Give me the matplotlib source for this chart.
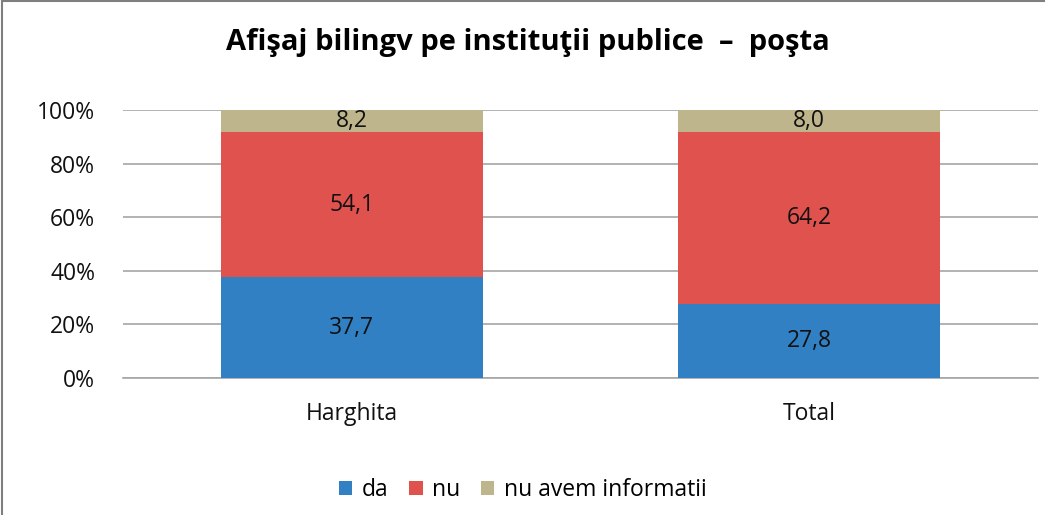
import matplotlib
matplotlib.use("Agg")
import matplotlib.pyplot as plt
from matplotlib.patches import Rectangle
import numpy as np

categories = ["Harghita", "Total"]
series_names = ["da", "nu", "nu avem informatii"]
da = [37.7, 27.8]
nu = [54.1, 64.2]
nu_info = [8.2, 8.0]
yticks = [0, 20, 40, 60, 80, 100]
ytick_labels = ["0%", "20%", "40%", "60%", "80%", "100%"]
title = "Afişaj bilingv pe instituţii publice  –  poşta"

colors = ["#3180C4", "#E0524E", "#BEB58C"]
plt.rcParams['font.family'] = ['Open Sans', 'DejaVu Sans']

fig = plt.figure(figsize=(10.45, 5.15), dpi=100)
ax = fig.add_axes([0.1177, 0.266, 0.8756, 0.52])

x = np.arange(len(categories))
width = 0.573
bottom = np.zeros(len(categories))
for vals, col, name in zip([da, nu, nu_info], colors, series_names):
    vals = np.array(vals)
    bars = ax.bar(x, vals, width, bottom=bottom, color=col, label=name, zorder=3)
    for xi, b, v in zip(x, bottom, vals):
        ax.text(xi, b + v / 2, f"{v:.1f}".replace(".", ","), ha="center", va="center",
                fontsize=16.5, color="#111111", zorder=4)
    bottom = bottom + vals

ax.set_xlim(-0.5, 1.5)
ax.set_ylim(0, 100)
ax.set_yticks(yticks)
ax.set_yticklabels(ytick_labels, fontsize=16.5, color="#111111")
ax.set_xticks(x)
ax.set_xticklabels(categories, fontsize=16.5, color="#111111")
ax.yaxis.grid(True, color="#A6A6A6", linewidth=1.2, zorder=0)
ax.tick_params(axis="both", length=0)
ax.tick_params(axis="y", pad=20)
ax.tick_params(axis="x", pad=17)
for s in ["top", "right", "left"]:
    ax.spines[s].set_visible(False)
ax.spines["bottom"].set_color("#A6A6A6")
ax.spines["bottom"].set_linewidth(1.2)

fig.text(0.505, 0.918, title, ha="center", va="center", fontsize=21, fontweight="bold", color="#000000")

leg = fig.legend(loc="center", bbox_to_anchor=(0.5, 0.048), ncol=3, frameon=False,
                 fontsize=16.5, handlelength=0.6, handleheight=0.6, handletextpad=0.4,
                 columnspacing=0.9)

fig.patches.append(Rectangle((0.0015, -0.1), 1.2, 1.0975, transform=fig.transFigure,
                             fill=False, edgecolor="#7F7F7F", linewidth=1.5))

fig.savefig("out.png", dpi=100)
